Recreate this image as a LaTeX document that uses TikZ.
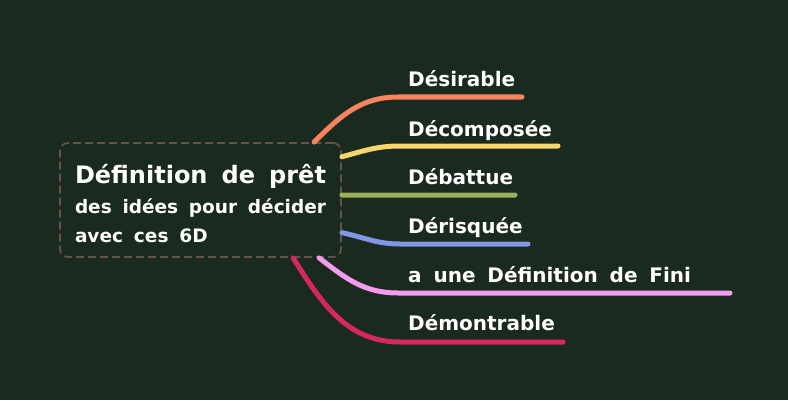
\documentclass[tikz,border=0pt]{standalone}
\usepackage{fontspec}
\setmainfont{DejaVu Sans}[WordSpace=1.7]
\usetikzlibrary{positioning}
\definecolor{bgc}{HTML}{1B2A1E}
\definecolor{framec}{HTML}{65524B}
\definecolor{cdes}{HTML}{F7845E}
\definecolor{cdec}{HTML}{F9D56E}
\definecolor{cdeb}{HTML}{9CAF5A}
\definecolor{cder}{HTML}{8097E6}
\definecolor{cfin}{HTML}{F59BF0}
\definecolor{cdem}{HTML}{D6285E}
\tikzset{
  hub/.style={draw=framec, fill=bgc, line width=1.8pt, dash pattern=on 8pt off 4pt,
    rounded corners=8pt, minimum width=281pt, minimum height=114pt,
    inner sep=0pt, text=white, font=\bfseries},
  lbl/.style={anchor=base west, inner sep=0pt, text=white,
    font=\bfseries\fontsize{20}{24}\selectfont},
  branch/.style={line width=5pt, line cap=round}
}
\begin{document}
\begin{tikzpicture}[x=1pt,y=1pt]
\useasboundingbox[fill=bgc] (0,0) rectangle (788,400);
\node[hub] (hub) at (200.5,200) {\offinterlineskip\vbox to 114pt{%
  \hbox to 251pt{\fontsize{24}{29}\selectfont\rule[-12pt]{0pt}{52pt}Définition de prêt\hfil}%
  \hbox to 251pt{\fontsize{18.5}{29}\selectfont\rule[-11pt]{0pt}{29pt}des idées pour décider\hfil}%
  \hbox to 251pt{\fontsize{18.5}{29}\selectfont\rule[-15pt]{0pt}{33pt}avec ces 6D\hfil}\vss}};
\node[lbl] (des) at (408,313) {Désirable};
\node[lbl] (dec) at (408,264) {Décomposée};
\node[lbl] (deb) at (408,216) {Débattue};
\node[lbl] (der) at (408,167) {Dérisquée};
\node[lbl] (fin) at (408,118) {a une Définition de Fini};
\node[lbl] (dem) at (408,70) {Démontrable};
\coordinate (kdes) at (398,303);
\coordinate (edes) at (522,303);
\coordinate (kdec) at (400,254);
\coordinate (edec) at (558,254);
\coordinate (edeb) at (515,205);
\coordinate (kder) at (400,156);
\coordinate (eder) at (528,156);
\coordinate (kfin) at (398,107);
\coordinate (efin) at (730,107);
\coordinate (kdem) at (400,58);
\coordinate (edem) at (563,58);
\draw[branch, cdes] (hub.27.5) to[out=45, in=180] (kdes) -- (edes);
\draw[branch, cdec] (hub.17) to[out=15, in=180] (kdec) -- (edec);
\draw[branch, cdeb] (hub.2) -- (edeb);
\draw[branch, cder] (hub.-13.2) to[out=-12, in=180] (kder) -- (eder);
\draw[branch, cfin] (hub.-26.9) to[out=-38, in=180] (kfin) -- (efin);
\draw[branch, cdem] (hub.-32.5) to[out=-58, in=180] (kdem) -- (edem);
\end{tikzpicture}
\end{document}
